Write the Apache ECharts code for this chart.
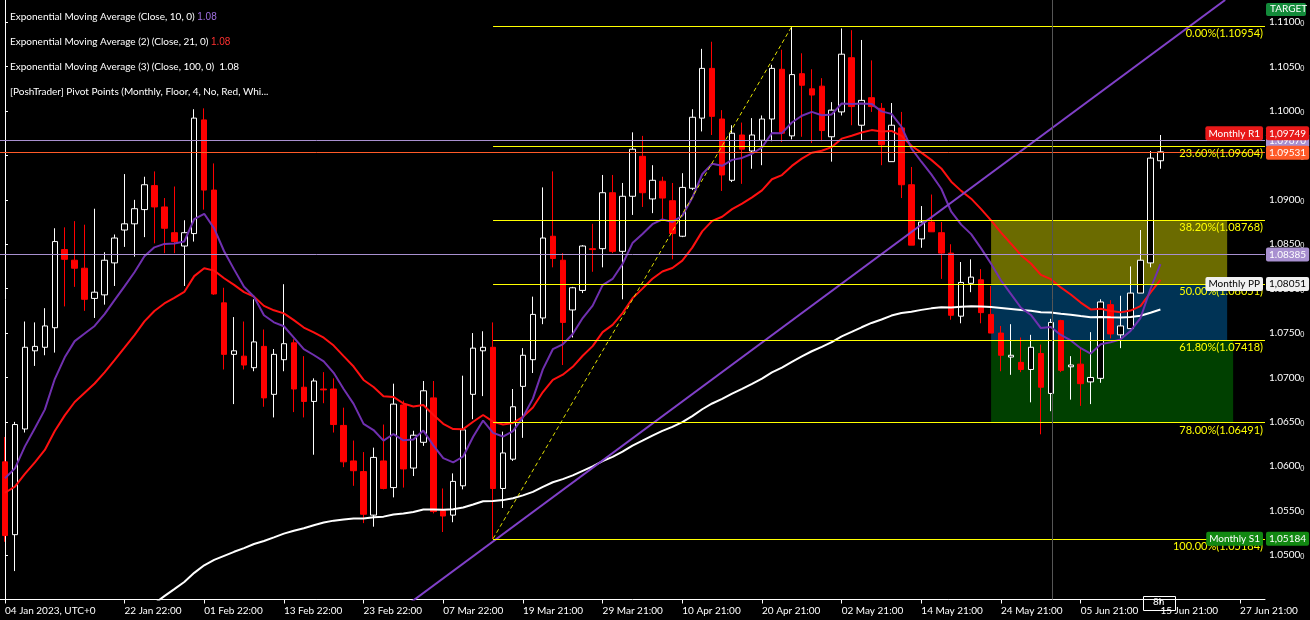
<!DOCTYPE html>
<html><head><meta charset="utf-8">
<script src="https://cdn.jsdelivr.net/npm/echarts@6/dist/echarts.min.js"></script>
<style>html,body{margin:0;background:#000}#c{width:1310px;height:620px}</style>
</head><body><div id="c"></div>
<script>
// OHLC candles [open, close, low, high]
const candles = [
[1.0605,1.0522,1.0515,1.0633],[1.0523,1.0647,1.0482,1.0650],[1.0642,1.0734,1.0638,1.0763],[1.0730,1.0735,1.0713,1.0762],
[1.0734,1.0758,1.0725,1.0778],[1.0756,1.0853,1.0728,1.0868],[1.0844,1.0833,1.0780,1.0869],[1.0832,1.0823,1.0802,1.0876],
[1.0823,1.0788,1.0775,1.0872],[1.0789,1.0796,1.0767,1.0890],[1.0793,1.0832,1.0782,1.0841],[1.0829,1.0857,1.0803,1.0861],
[1.0866,1.0873,1.0847,1.0929],[1.0873,1.0890,1.0836,1.0900],[1.0889,1.0917,1.0858,1.0926],[1.0916,1.0892,1.0851,1.0932],
[1.0892,1.0868,1.0840,1.0902],[1.0863,1.0853,1.0840,1.0915],[1.0848,1.0863,1.0803,1.0877],[1.0862,1.0992,1.0853,1.1002],
[1.0990,1.0911,1.0889,1.1003],[1.0911,1.0794,1.0793,1.0941],[1.0784,1.0726,1.0709,1.0801],[1.0726,1.0730,1.0670,1.0768],
[1.0724,1.0714,1.0709,1.0763],[1.0711,1.0740,1.0707,1.0788],[1.0735,1.0677,1.0667,1.0754],[1.0681,1.0726,1.0655,1.0732],
[1.0720,1.0738,1.0707,1.0805],[1.0739,1.0687,1.0661,1.0743],[1.0689,1.0673,1.0655,1.0724],[1.0673,1.0696,1.0613,1.0699],
[1.0687,1.0686,1.0671,1.0706],[1.0687,1.0647,1.0638,1.0699],[1.0646,1.0605,1.0599,1.0666],[1.0606,1.0595,1.0578,1.0629],
[1.0594,1.0546,1.0536,1.0616],[1.0545,1.0610,1.0532,1.0621],[1.0606,1.0575,1.0574,1.0647],[1.0576,1.0670,1.0565,1.0693],
[1.0669,1.0597,1.0576,1.0674],[1.0598,1.0635,1.0589,1.0640],[1.0627,1.0685,1.0623,1.0696],[1.0677,1.0549,1.0547,1.0696],
[1.0550,1.0544,1.0526,1.0575],[1.0545,1.0583,1.0537,1.0592],[1.0578,1.0641,1.0574,1.0702],[1.0681,1.0733,1.0653,1.0750],
[1.0730,1.0734,1.0679,1.0752],[1.0734,1.0575,1.0518,1.0762],[1.0575,1.0615,1.0553,1.0639],[1.0608,1.0667,1.0606,1.0687],
[1.0690,1.0725,1.0632,1.0733],[1.0720,1.0771,1.0705,1.0791],[1.0767,1.0857,1.0760,1.0914],[1.0859,1.0834,1.0824,1.0932],
[1.0832,1.0762,1.0714,1.0840],[1.0776,1.0801,1.0745,1.0802],[1.0798,1.0848,1.0795,1.0849],[1.0845,1.0844,1.0819,1.0873],
[1.0845,1.0908,1.0824,1.0928],[1.0908,1.0842,1.0840,1.0928],[1.0842,1.0904,1.0788,1.0919],[1.0904,1.0957,1.0883,1.0976],
[1.0949,1.0908,1.0892,1.0972],[1.0901,1.0922,1.0885,1.0939],[1.0921,1.0902,1.0877,1.0926],[1.0899,1.0862,1.0833,1.0919],
[1.0859,1.0914,1.0858,1.0930],[1.0913,1.0993,1.0911,1.1002],[1.0992,1.1048,1.0977,1.1070],[1.1048,1.0994,1.0973,1.1078],
[1.0991,1.0928,1.0910,1.1001],[1.0922,1.0975,1.0920,1.0984],[1.0973,1.0957,1.0918,1.0987],[1.0955,1.0973,1.0935,1.0992],
[1.0967,1.0991,1.0939,1.0995],[1.0991,1.1048,1.0966,1.1052],[1.1047,1.0975,1.0965,1.1069],[1.0972,1.1041,1.0968,1.1095],
[1.1042,1.1029,1.0971,1.1065],[1.1025,1.1018,1.0964,1.1047],[1.1028,1.0978,1.0966,1.1037],[1.0971,1.1001,1.0943,1.1010],
[1.0999,1.1064,1.0995,1.1093],[1.1060,1.1005,1.0984,1.1091],[1.0984,1.1012,1.0967,1.1080],[1.1015,1.1005,1.0999,1.1057],
[1.1003,1.0962,1.0939,1.1009],[1.0943,1.0984,1.0943,1.1009],[1.0981,1.0917,1.0902,1.0999],[1.0917,1.0849,1.0849,1.0937],
[1.0856,1.0875,1.0846,1.0893],[1.0875,1.0864,1.0864,1.0906],[1.0863,1.0840,1.0811,1.0875],[1.0840,1.0770,1.0765,1.0850],
[1.0769,1.0807,1.0761,1.0830],[1.0806,1.0813,1.0796,1.0833],[1.0810,1.0773,1.0761,1.0822],[1.0771,1.0750,1.0750,1.0803],
[1.0750,1.0725,1.0707,1.0758],[1.0723,1.0725,1.0703,1.0760],[1.0717,1.0709,1.0706,1.0745],[1.0709,1.0734,1.0672,1.0748],
[1.0727,1.0689,1.0636,1.0737],[1.0682,1.0762,1.0662,1.0766],[1.0764,1.0708,1.0706,1.0765],[1.0712,1.0714,1.0675,1.0724],
[1.0715,1.0693,1.0668,1.0733],[1.0695,1.0700,1.0670,1.0751],[1.0699,1.0785,1.0694,1.0788],[1.0782,1.0749,1.0744,1.0787],
[1.0748,1.0758,1.0733,1.0792],[1.0755,1.0795,1.0755,1.0825],[1.0795,1.0832,1.0795,1.0866],[1.0829,1.0947,1.0824,1.0955],
[1.0944,1.0954,1.0935,1.0973]
];
const slotCount = 127;
const dateLabelIdx = [0,12,20,28,36,44,52,60,68,76,84,92,100,108,116,124];
const dateLabels = ['04 Jan 2023, UTC+0','22 Jan 22:00','01 Feb 22:00','13 Feb 22:00','23 Feb 22:00','07 Mar 22:00','19 Mar 21:00','29 Mar 21:00','10 Apr 21:00','20 Apr 21:00','02 May 21:00','14 May 21:00','24 May 21:00','05 Jun 21:00','15 Jun 21:00','27 Jun 21:00'];
// EMA starting values (prior history)
const emaSeed = {e10:1.0601, e21:1.0575, e100:1.0310};
const fibLevels = [['0.00%',1.10954],['23.60%',1.09604],['38.20%',1.08768],['50.00%',1.08051],['61.80%',1.07418],['78.00%',1.06491],['100.00%',1.05184]];
const fibStartIdx = 49;
const trendPurple = [[40.4,1.0444],[122.5,1.1125]];
const trendYellow = [[49,1.05184],[79,1.10954]];
const tags = [
 {v:1.09670,text:'1.09670',bg:'#a890d0',fg:'#fff',name:null,line:'#a890d0'},
 {v:1.09531,text:'1.09531',bg:'#ff5a28',fg:'#fff',name:null,line:'#ff5a28'},
 {v:1.09749,text:'1,09749',bg:'#e81818',fg:'#fff',name:'Monthly R1',line:null},
 {v:1.08385,text:'1.08385',bg:'#a890d0',fg:'#fff',name:null,line:'#a890d0'},
 {v:1.08051,text:'1,08051',bg:'#f0f0f0',fg:'#000',name:'Monthly PP',line:null},
 {v:1.05184,text:'1,05184',bg:'#118811',fg:'#fff',name:'Monthly S1',line:null}
];
const zones = [
 {y1:1.08768,y2:1.08051,x1:99,x2:122.7,color:'rgba(238,238,0,0.45)'},
 {y1:1.08051,y2:1.07418,x1:99,x2:122.7,color:'rgba(0,128,212,0.4)'},
 {y1:1.07418,y2:1.06491,x1:99,x2:123.3,color:'rgba(0,160,0,0.4)'}
];

const cats = [];
for (let i=0;i<slotCount;i++){const j=dateLabelIdx.indexOf(i);cats.push(j>=0?dateLabels[j]:'');}
function ema(n, seed){const a=2/(n+1);let e=seed;return candles.map(c=>{e=e+a*(c[1]-e);return +e.toFixed(5);});}
const e10=ema(10,emaSeed.e10), e21=ema(21,emaSeed.e21), e100=ema(100,emaSeed.e100);

const chart = echarts.init(document.getElementById('c'));
const font = 'Lato, "DejaVu Sans", sans-serif';
const markLines = [];
fibLevels.forEach(f=>{
  markLines.push([{coord:[fibStartIdx,f[1]],lineStyle:{color:'#ffff00',width:1,type:'solid'},
    label:{show:true,position:'insideEndBottom',distance:[2,2],formatter:f[0]+'('+f[1].toFixed(5)+')',color:'#ffff00',fontSize:11,fontFamily:font}},
    {coord:[126.5,f[1]]}]);
});
const tagLbl = (t,txt,pos,dist)=>({show:true,position:pos,distance:dist,formatter:txt,backgroundColor:t.bg,color:t.fg,padding:[2,3],borderRadius:2,fontSize:10,fontFamily:font,opacity:1});
tags.forEach(t=>{
  if(t.line) markLines.push([{coord:[-0.5,t.v],lineStyle:{color:t.line,width:1,type:'solid'},label:tagLbl(t,t.text,'end',1)},{coord:[126.5,t.v]}]);
  else markLines.push([{coord:[126.4,t.v],lineStyle:{color:'rgba(0,0,0,0)',width:1},label:tagLbl(t,t.text,'end',1)},{coord:[126.5,t.v]}]);
  if(t.name) markLines.push([{coord:[120,t.v],lineStyle:{color:'rgba(0,0,0,0)',width:1},label:tagLbl(t,t.name,'insideEnd',2)},{coord:[126.5,t.v]}]);
});
markLines.push([{coord:[105.1,1.045],lineStyle:{color:'#555',width:1,type:'solid'},label:{show:false}},{coord:[105.1,1.1125]}]);

chart.setOption({
  backgroundColor:'#000',
  animation:false,
  grid:{left:-3,right:45,top:0,bottom:20.5},
  xAxis:[
    {type:'category',data:cats,boundaryGap:true,
     axisLine:{lineStyle:{color:'#fff'}},
     axisTick:{show:true,alignWithLabel:true,interval:(i)=>dateLabelIdx.includes(i),lineStyle:{color:'#fff'},length:4},
     axisLabel:{interval:(i)=>dateLabelIdx.includes(i),align:'left',color:'#fff',fontSize:10,fontFamily:font,margin:6},
     splitLine:{show:false}},
    {type:'value',min:-0.5,max:126.5,show:false,splitLine:{show:false}}
  ],
  yAxis:{type:'value',position:'right',min:1.045,max:1.1125,interval:0.005,scale:true,
    axisLine:{show:true,lineStyle:{color:'#fff'}},axisTick:{show:true,inside:false,length:3,lineStyle:{color:'#fff'}},
    splitLine:{show:false},minorTick:{show:false},
    axisLabel:{showMinLabel:false,showMaxLabel:false,color:'#fff',fontSize:10,fontFamily:font,margin:4,
      formatter:v=>v.toFixed(4)+'{s|0}',rich:{s:{fontSize:7,color:'#fff',verticalAlign:'bottom',padding:[4,0,0,0]}}}},
  series:[
    {type:'candlestick',data:candles,barWidth:6,z:2,
     itemStyle:{color:'#000',borderColor:'#fff',color0:'#ff0000',borderColor0:'#ff0000',borderWidth:1}},
    {type:'line',data:e100,symbol:'none',z:3,lineStyle:{color:'#fff',width:2}},
    {type:'line',data:e21,symbol:'none',z:3,lineStyle:{color:'#ff1010',width:2}},
    {type:'line',data:e10,symbol:'none',z:3,lineStyle:{color:'#7030b0',width:2}},
    {type:'line',xAxisIndex:1,data:trendPurple,symbol:'none',z:4,lineStyle:{color:'#8040c8',width:2}},
    {type:'line',xAxisIndex:1,data:trendYellow,symbol:'none',z:4,lineStyle:{color:'#e0e000',width:1,type:[4,3]}},
    {type:'line',xAxisIndex:1,data:[[-5,1.0]],symbol:'none',z:6,lineStyle:{opacity:0},
     markLine:{symbol:'none',silent:true,animation:false,data:markLines},
     markArea:{silent:true,data:zones.map(z=>[{coord:[z.x1,z.y1],itemStyle:{color:z.color}},{coord:[z.x2,z.y2]}])}}
  ],
  graphic:[
    {type:'text',left:10,top:12,style:{text:'Exponential Moving Average (Close, 10, 0) {p|1.08}',fill:'#fff',font:'10px '+font,rich:{p:{fill:'#a070e0',fontSize:10}}}},
    {type:'text',left:10,top:37,style:{text:'Exponential Moving Average (2) (Close, 21, 0) {r|1.08}',fill:'#fff',font:'10px '+font,rich:{r:{fill:'#ff3030',fontSize:10}}}},
    {type:'text',left:10,top:62,style:{text:'Exponential Moving Average (3) (Close, 100, 0)  1.08',fill:'#fff',font:'10px '+font}},
    {type:'text',left:10,top:87,style:{text:'[PoshTrader] Pivot Points (Monthly, Floor, 4, No, Red, Whi...',fill:'#fff',font:'10px '+font}},
    {type:'rect',left:1266,top:3,shape:{width:40,height:13,r:2},style:{fill:'#138a3a'}},
    {type:'text',left:1270,top:4,style:{text:'TARGET',fill:'#fff',font:'10px '+font}},
    {type:'rect',left:1143,top:596,shape:{width:32,height:14},style:{fill:'#000',stroke:'#fff',lineWidth:1}},
    {type:'text',left:1153,top:597,style:{text:'8h',fill:'#fff',font:'10px '+font}}
  ]
});
</script></body></html>
